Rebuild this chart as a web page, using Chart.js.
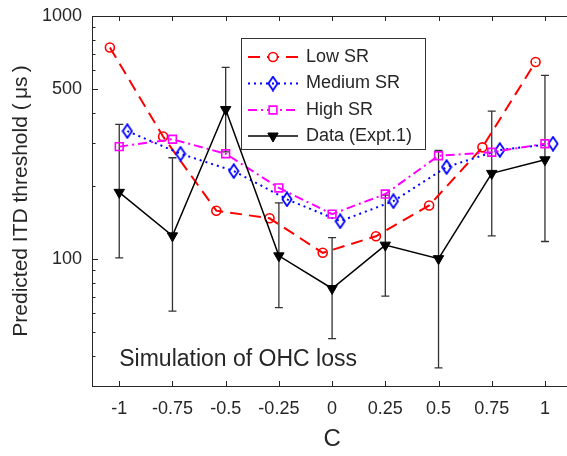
<!DOCTYPE html>
<html><head><meta charset="utf-8">
<script src="https://cdn.jsdelivr.net/npm/chart.js@4.4.1/dist/chart.umd.min.js"></script>
<style>
html,body{margin:0;padding:0;background:#fff;overflow:hidden;width:567px;height:456px}
#wrap{position:relative;width:580px;height:456px}
</style>
</head><body><div id="wrap"><canvas id="c" width="580" height="456"></canvas></div>
<script>
// ---- data ----
const categories = [-1, -0.75, -0.5, -0.25, 0, 0.25, 0.5, 0.75, 1];
const lowSR    = [742, 319, 158, 147, 106, 124, 166, 288, 647];
const mediumSR = [336, 271, 230, 176, 143, 173, 239, 281, 298];
const highSR   = [290, 311, 271, 196, 153, 185, 266, 275, 298];
const dataExpt = [188, 124.5, 412, 103, 75.6, 114, 100.3, 225, 256];
const errLow   = [101, 61, 276, 63, 47, 70.3, 35.6, 124.5, 118];
const errHigh  = [358, 261, 614, 170, 122.5, 183, 280, 406, 570];
const yTickLabels = [100, 500, 1000];
const yMinorTicks = [30, 40, 50, 60, 70, 80, 90, 200, 300, 400, 600, 700, 800, 900];

const FONT = '"Liberation Sans", Arial, Helvetica, sans-serif';
const TXT = '#262626';
const OFF = {low: -0.044, medium: 0.038, high: 0, data: 0};
function pts(vals, off) { return categories.map((c, i) => ({x: c + off, y: vals[i]})); }

// MATLAB-like diamond (taller than wide)
function diamondMarker(color) {
  const cv = document.createElement('canvas');
  cv.width = 12; cv.height = 16;
  const g = cv.getContext('2d');
  g.strokeStyle = color; g.lineWidth = 1.8;
  g.beginPath(); g.moveTo(6, 1.2); g.lineTo(10.6, 8); g.lineTo(6, 14.8); g.lineTo(1.4, 8); g.closePath(); g.stroke();
  return cv;
}

const datasets = [
  {label: 'Low SR', data: pts(lowSR, OFF.low), borderColor: '#ff0000', borderWidth: 2, borderDash: [12, 7],
   pointStyle: 'circle', pointRadius: 4.5, pointBorderWidth: 1.6, pointBackgroundColor: 'rgba(0,0,0,0)', pointBorderColor: '#ff0000', order: 3},
  {label: 'Medium SR', data: pts(mediumSR, OFF.medium), borderColor: '#0000ff', borderWidth: 2, borderDash: [2, 4],
   pointStyle: diamondMarker('#0000ff'), pointRadius: 6, pointBorderWidth: 1.8, pointBackgroundColor: 'rgba(0,0,0,0)', pointBorderColor: '#0000ff', order: 2},
  {label: 'High SR', data: pts(highSR, OFF.high), borderColor: '#ff00ff', borderWidth: 2, borderDash: [9, 4, 2, 4],
   pointStyle: 'rect', pointRadius: 5.5, pointBorderWidth: 1.6, pointBackgroundColor: 'rgba(0,0,0,0)', pointBorderColor: '#ff00ff', order: 1},
  {label: 'Data (Expt.1)', data: pts(dataExpt, OFF.data), borderColor: '#000000', borderWidth: 1.5,
   pointStyle: 'triangle', pointRotation: 180, pointRadius: 6, pointBorderWidth: 1, pointBackgroundColor: '#000000', pointBorderColor: '#000000', order: 0}
];

const decor = {
  id: 'decor',
  beforeDatasetsDraw(chart) {
    const {ctx, scales: {x, y}} = chart;
    ctx.save();
    ctx.strokeStyle = '#333333'; ctx.lineWidth = 1.3; ctx.setLineDash([]);
    categories.forEach((c, i) => {
      const px = x.getPixelForValue(c + OFF.data);
      const y1 = y.getPixelForValue(errLow[i]), y2 = y.getPixelForValue(errHigh[i]);
      ctx.beginPath();
      ctx.moveTo(px, y1); ctx.lineTo(px, y2);
      ctx.moveTo(px - 4, y1); ctx.lineTo(px + 4, y1);
      ctx.moveTo(px - 4, y2); ctx.lineTo(px + 4, y2);
      ctx.stroke();
    });
    ctx.restore();
  },
  afterDraw(chart) {
    const {ctx, chartArea: a, scales: {x, y}} = chart;
    ctx.save();
    // frame
    ctx.strokeStyle = TXT; ctx.lineWidth = 1; ctx.setLineDash([]);
    ctx.strokeRect(Math.round(a.left) + 0.5, Math.round(a.top) + 0.5, Math.round(a.right - a.left), Math.round(a.bottom - a.top));
    // inward ticks
    ctx.beginPath();
    categories.forEach(c => {
      const px = Math.round(x.getPixelForValue(c)) + 0.5;
      ctx.moveTo(px, a.bottom); ctx.lineTo(px, a.bottom - 5);
      ctx.moveTo(px, a.top); ctx.lineTo(px, a.top + 5);
    });
    yTickLabels.forEach(v => {
      const py = Math.round(y.getPixelForValue(v)) + 0.5;
      ctx.moveTo(a.left, py); ctx.lineTo(a.left + 6, py);
    });
    yMinorTicks.forEach(v => {
      const py = Math.round(y.getPixelForValue(v)) + 0.5;
      ctx.moveTo(a.left, py); ctx.lineTo(a.left + 3.5, py);
    });
    ctx.stroke();
    // annotation
    ctx.fillStyle = TXT;
    ctx.font = '23px ' + FONT;
    ctx.textBaseline = 'middle'; ctx.textAlign = 'left';
    ctx.fillText('Simulation of OHC loss', x.getPixelForValue(-1), y.getPixelForValue(38.5));
    // legend
    const bx = 241.5, by = 38.5, bw = 184, bh = 111;
    ctx.fillStyle = '#ffffff'; ctx.fillRect(bx, by, bw, bh);
    ctx.strokeStyle = '#333333'; ctx.lineWidth = 1; ctx.strokeRect(bx, by, bw, bh);
    const rows = [57, 83.5, 110, 136];
    chart.data.datasets.forEach((ds, i) => {
      const ry = rows[i];
      ctx.save();
      ctx.strokeStyle = ds.borderColor; ctx.lineWidth = ds.borderWidth;
      ctx.setLineDash(ds.borderDash || []);
      ctx.beginPath(); ctx.moveTo(248, ry); ctx.lineTo(298, ry); ctx.stroke();
      ctx.setLineDash([]);
      ctx.fillStyle = ds.pointBackgroundColor === 'rgba(0,0,0,0)' ? '#ffffff' : ds.pointBackgroundColor;
      ctx.strokeStyle = ds.pointBorderColor; ctx.lineWidth = ds.pointBorderWidth;
      Chart.helpers.drawPoint(ctx, {pointStyle: ds.pointStyle, radius: ds.pointRadius, rotation: ds.pointRotation || 0, borderWidth: ds.pointBorderWidth}, 273, ry);
      ctx.restore();
      ctx.fillStyle = TXT; ctx.font = '18px ' + FONT; ctx.textBaseline = 'middle'; ctx.textAlign = 'left';
      ctx.fillText(ds.label, 306, ry);
    });
    ctx.restore();
  }
};

new Chart(document.getElementById('c'), {
  type: 'line',
  data: {datasets},
  options: {
    responsive: false, animation: false, devicePixelRatio: 1,
    layout: {padding: {top: 16, left: 0, right: 5, bottom: 0}},
    plugins: {legend: {display: false}, tooltip: {enabled: false}},
    elements: {line: {tension: 0}},
    scales: {
      x: {
        type: 'linear', min: -1.128, max: 1.128,
        grid: {display: false, drawTicks: false}, border: {display: false},
        afterBuildTicks: s => { s.ticks = categories.map(v => ({value: v})); },
        afterFit: s => { s.height = 70; s.paddingLeft = 0; s.paddingRight = 0; },
        ticks: {padding: 12, autoSkip: false, maxRotation: 0, font: {family: FONT, size: 18}, color: TXT, callback: v => String(v)},
        title: {display: true, text: 'C', font: {family: FONT, size: 24}, color: TXT, padding: {top: 0, bottom: 2}}
      },
      y: {
        type: 'logarithmic', min: 30, max: 1000,
        grid: {display: false, drawTicks: false}, border: {display: false},
        afterBuildTicks: s => { s.ticks = yTickLabels.map(v => ({value: v})); },
        afterFit: s => { s.width = 92; s.paddingTop = 0; s.paddingBottom = 0; },
        ticks: {padding: 10, autoSkip: false, font: {family: FONT, size: 18}, color: TXT, callback: v => String(v)},
        title: {display: true, text: 'Predicted ITD threshold (\u2009μs\u2009)', font: {family: FONT, size: 21}, color: TXT, padding: {top: 9, bottom: 0}}
      }
    }
  },
  plugins: [decor]
});
</script>
</body></html>
